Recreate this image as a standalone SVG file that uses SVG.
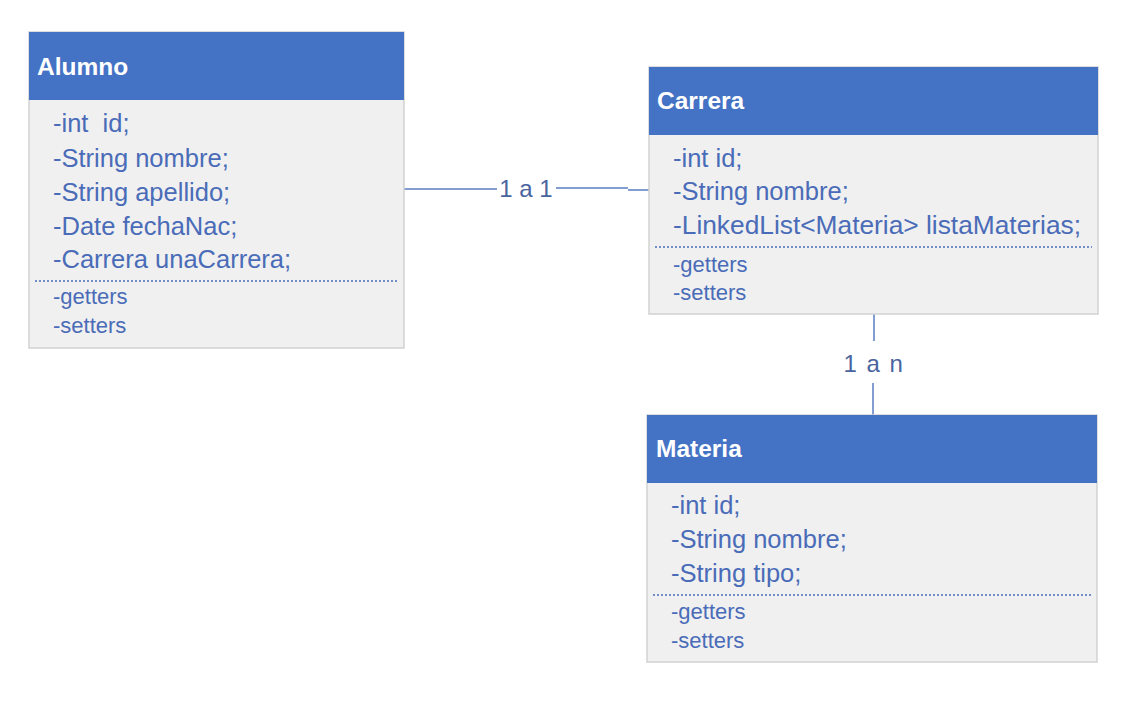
<svg xmlns="http://www.w3.org/2000/svg" width="1127" height="706" viewBox="0 0 1127 706">
<style>
.body{fill:#f0f0f0;stroke:#d2d2d2;stroke-width:1.5}
.head{fill:#4472c4}
.title{font-family:"Liberation Sans",Arial,sans-serif;font-weight:bold;font-size:24.5px;fill:#ffffff}
.attr{font-family:"Liberation Sans",Arial,sans-serif;font-size:25.5px;fill:#4a6cb8}
.meth{font-family:"Liberation Sans",Arial,sans-serif;font-size:22px;fill:#4a6cb8}
.sep{stroke:#4a6cb8;stroke-width:1.5;stroke-dasharray:2 2}
.conn{stroke:#5a7cc4;stroke-width:1.5;fill:none}
.lbl{font-family:"Liberation Sans",Arial,sans-serif;font-size:24px;fill:#4a64a0}
</style>
<rect width="1127" height="706" fill="#ffffff"/>
<g id="connectors">
<line class="conn" x1="404" y1="189" x2="497" y2="189"/>
<line class="conn" x1="556" y1="188" x2="628" y2="188"/>
<line class="conn" x1="628" y1="190" x2="649" y2="190"/>
<text class="lbl" x="526" y="197" text-anchor="middle">1 a 1</text>
<line class="conn" x1="874" y1="314" x2="874" y2="341"/>
<line class="conn" x1="873" y1="383" x2="873" y2="415"/>
<text class="lbl" x="874" y="372" text-anchor="middle" letter-spacing="1.5">1 a n</text>
</g>
<g id="alumno">
<rect class="body" x="29" y="32" width="375" height="316"/>
<rect class="head" x="29" y="32" width="375" height="68"/>
<text class="title" x="37" y="75">Alumno</text>
<text class="attr" x="53" y="132">-int&#160; id;</text>
<text class="attr" x="53" y="167">-String nombre;</text>
<text class="attr" x="53" y="201">-String apellido;</text>
<text class="attr" x="53" y="235">-Date fechaNac;</text>
<text class="attr" x="53" y="268">-Carrera unaCarrera;</text>
<line class="sep" x1="35" y1="281" x2="398" y2="281"/>
<text class="meth" x="53" y="304">-getters</text>
<text class="meth" x="53" y="333">-setters</text>
</g>
<g id="carrera">
<rect class="body" x="649" y="67" width="449" height="247"/>
<rect class="head" x="649" y="67" width="449" height="68"/>
<text class="title" x="657" y="109">Carrera</text>
<text class="attr" x="673" y="167">-int id;</text>
<text class="attr" x="673" y="200">-String nombre;</text>
<text class="attr" x="673" y="234" textLength="408" lengthAdjust="spacingAndGlyphs">-LinkedList&lt;Materia&gt; listaMaterias;</text>
<line class="sep" x1="655" y1="247" x2="1092" y2="247"/>
<text class="meth" x="673" y="272">-getters</text>
<text class="meth" x="673" y="300">-setters</text>
</g>
<g id="materia">
<rect class="body" x="647" y="415" width="450" height="247"/>
<rect class="head" x="647" y="415" width="450" height="68"/>
<text class="title" x="656" y="457">Materia</text>
<text class="attr" x="671" y="514">-int id;</text>
<text class="attr" x="671" y="548">-String nombre;</text>
<text class="attr" x="671" y="582">-String tipo;</text>
<line class="sep" x1="653" y1="595" x2="1091" y2="595"/>
<text class="meth" x="671" y="619">-getters</text>
<text class="meth" x="671" y="648">-setters</text>
</g>
</svg>
